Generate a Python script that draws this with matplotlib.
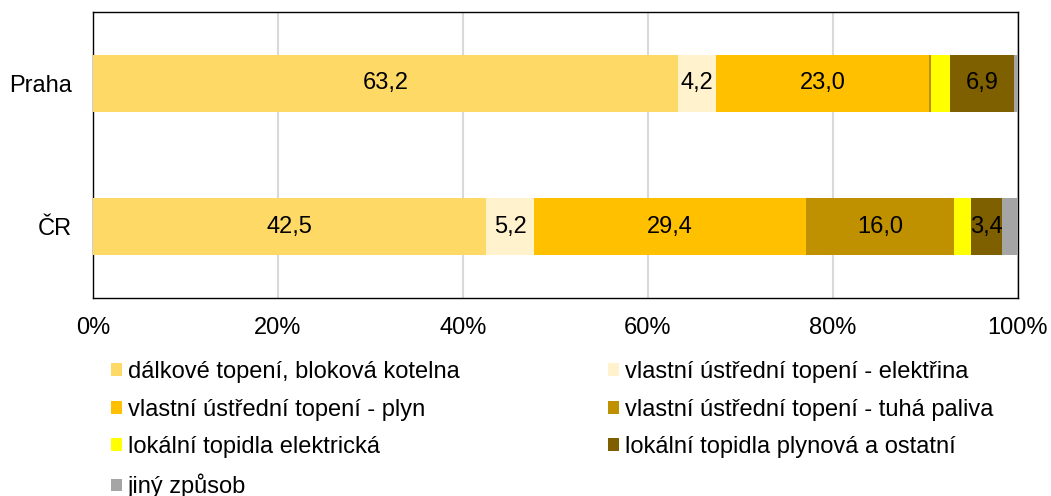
import numpy as np
import matplotlib
matplotlib.use('Agg')
import matplotlib.pyplot as plt

plt.rcParams['font.family'] = ['Liberation Sans', 'DejaVu Sans']

regions = ['ČR', 'Praha']
series = ['dálkové topení, bloková kotelna',
          'vlastní ústřední topení - elektřina',
          'vlastní ústřední topení - plyn',
          'vlastní ústřední topení - tuhá paliva',
          'lokální topidla elektrická',
          'lokální topidla plynová a ostatní',
          'jiný způsob']
# values in %, one list per series, order = [ČR, Praha]
dalkove = [42.5, 63.2]
ut_elektrina = [5.2, 4.2]
ut_plyn = [29.4, 23.0]
ut_tuha = [16.0, 0.2]
lok_elektricka = [1.8, 2.1]
lok_plynova = [3.4, 6.9]
jiny = [1.7, 0.4]
values = np.array([dalkove, ut_elektrina, ut_plyn, ut_tuha, lok_elektricka, lok_plynova, jiny])
colors = ['#FFD966', '#FFF2CC', '#FFC000', '#BF9000', '#FFFF00', '#7F6000', '#A5A5A5']

fig = plt.figure(figsize=(10.51, 4.96), dpi=100)
ax = fig.add_axes([93/1051, 1-298/496, 925/1051, 286/496])

y = np.arange(len(regions))
left = np.zeros(len(regions))
handles = []
for i, name in enumerate(series):
    b = ax.barh(y, values[i], left=left, height=0.4, color=colors[i], label=name, zorder=3)
    handles.append(b)
    for j in range(len(regions)):
        v = values[i][j]
        if v >= 3:
            ax.text(left[j] + v/2, y[j], f'{v:.1f}'.replace('.', ','), ha='center', va='center',
                    fontsize=17, color='black', zorder=4)
    left += values[i]

ax.set_xlim(0, 100)
ax.set_ylim(-0.5, 1.5)
ax.set_xticks([0, 20, 40, 60, 80, 100])
ax.set_xticklabels([f'{t}%' for t in [0, 20, 40, 60, 80, 100]])
ax.set_yticks(y)
ax.set_yticklabels(regions)
ax.tick_params(length=0, labelsize=17)
ax.tick_params(axis='x', pad=14)
ax.tick_params(axis='y', pad=15)
ax.xaxis.grid(True, color='#D9D9D9', linewidth=1.5, zorder=0)
ax.set_axisbelow(True)
for s in ax.spines.values():
    s.set_color('black')
    s.set_linewidth(1)

# legend fills column by column -> reorder so rows read like the original
order = [0, 2, 4, 6, 1, 3, 5]
fig.legend([handles[k] for k in order], [series[k] for k in order],
           loc='upper left', bbox_to_anchor=(111/1051, 1-361/496), ncol=2,
           frameon=False, fontsize=17, handlelength=0.45, handleheight=0.45,
           handletextpad=0.25, columnspacing=6.3, labelspacing=0.66, borderpad=0,
           borderaxespad=0)

fig.savefig('out.png', dpi=100)
